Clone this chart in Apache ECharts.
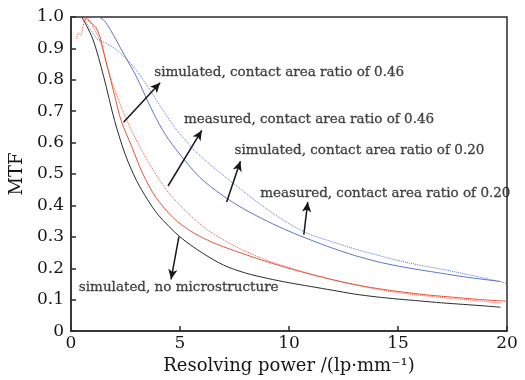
<!DOCTYPE html>
<html>
<head>
<meta charset="utf-8">
<script src="https://cdn.jsdelivr.net/npm/echarts@6/dist/echarts.min.js"></script>
<style>
  html, body { margin: 0; padding: 0; background: #fff; }
  #chart { width: 525px; height: 380px; }
</style>
</head>
<body>
<div id="chart"></div>
<script>
// Resolving power (lp/mm) vs MTF
const xTicks = [0, 5, 10, 15, 20];
const yTicks = [0, 0.1, 0.2, 0.3, 0.4, 0.5, 0.6, 0.7, 0.8, 0.9, 1.0];

const simNone = [[0.5,1.0],[1,0.93],[1.5,0.81],[2,0.67],[2.5,0.56],[3,0.48],[3.5,0.42],[4,0.37],[5,0.30],[6,0.25],[7,0.21],[8,0.185],[9,0.168],[10,0.154],[11,0.142],[12,0.13],[13,0.118],[14,0.109],[15,0.102],[16,0.096],[17,0.09],[18,0.085],[19,0.08],[19.7,0.076]];
const sim020 = [[0.6,1.0],[1.2,0.96],[1.6,0.86],[2,0.75],[2.3,0.67],[2.8,0.585],[3.3,0.50],[3.9,0.425],[4.7,0.36],[5.5,0.318],[6.5,0.282],[7.5,0.256],[8.5,0.232],[9.5,0.21],[10.5,0.19],[11.5,0.172],[12.5,0.156],[13.5,0.142],[14.5,0.131],[15.5,0.122],[16.5,0.114],[17.5,0.108],[18.5,0.102],[19.3,0.098],[20,0.095]];
const meas020 = [[0.25,0.93],[0.35,0.95],[0.45,0.94],[0.55,0.97],[0.7,1.0],[1,0.97],[1.35,0.92],[1.8,0.81],[2.3,0.715],[2.7,0.65],[3.45,0.55],[4.37,0.45],[5.3,0.38],[6.2,0.325],[7.4,0.275],[8.3,0.245],[9.3,0.218],[10.3,0.196],[11.3,0.176],[12.3,0.158],[13.3,0.143],[14.3,0.13],[15.3,0.12],[16.3,0.112],[17.3,0.105],[18.3,0.099],[19.7,0.089]];
const sim046 = [[0.8,1.0],[1.2,1.0],[1.5,0.99],[1.8,0.96],[2.4,0.885],[3,0.81],[3.6,0.72],[4.2,0.64],[4.8,0.58],[5.9,0.49],[6.95,0.432],[7.9,0.39],[9,0.35],[10,0.318],[11,0.29],[12,0.264],[13,0.241],[14,0.222],[15,0.207],[16,0.195],[17,0.184],[18,0.173],[19,0.164],[19.7,0.158]];
const meas046 = [[0.6,1.0],[0.8,0.97],[1.0,0.95],[1.2,0.93],[1.65,0.915],[2.27,0.885],[3,0.83],[3.6,0.77],[4.2,0.705],[4.8,0.645],[5.6,0.58],[6.3,0.535],[7,0.495],[8,0.44],[9,0.388],[10,0.342],[11,0.307],[12,0.284],[13,0.262],[14,0.243],[15,0.225],[16,0.21],[17,0.197],[18,0.183],[19,0.168],[20,0.152]];

// Callout texts: anchor point (left end of text) and arrow tail -> head, in data units
const noteTexts = [
  'simulated, contact area ratio of 0.46',
  'measured, contact area ratio of 0.46',
  'simulated, contact area ratio of 0.20',
  'measured, contact area ratio of 0.20',
  'simulated, no microstructure'
];
const noteAnchors = [[3.82,0.823],[5.18,0.674],[7.5,0.576],[8.68,0.437],[0.36,0.139]];
const arrowTails = [[2.41,0.665],[4.45,0.462],[7.14,0.411],[10.68,0.307],[4.95,0.301]];
const arrowHeads = [[4.09,0.791],[6.0,0.639],[7.77,0.541],[10.86,0.411],[4.59,0.165]];

const serif = 'DejaVu Serif';
const ink = '#161616';
const frame = '#2b2b2b';
const red = '#e5553c';
const blue = '#5b76c6';

function lineSeries(data, color, type) {
  return {
    type: 'line', data: data, showSymbol: false, smooth: 0.3,
    lineStyle: { color: color, width: 1, type: type },
    silent: true, z: 2
  };
}

const chart = echarts.init(document.getElementById('chart'), null, { renderer: 'canvas' });
chart.setOption({
  animation: false,
  backgroundColor: '#fff',
  grid: { left: 67, right: 18, top: 17, bottom: 47, show: true, borderColor: frame, borderWidth: 1.5 },
  xAxis: {
    type: 'value', min: xTicks[0], max: xTicks[xTicks.length - 1], interval: 5,
    name: 'Resolving power /(lp\u00b7mm\u207b\u00b9)', nameLocation: 'middle', nameGap: 23,
    nameTextStyle: { fontFamily: serif, fontSize: 18, color: ink },
    axisLine: { lineStyle: { color: frame, width: 1.5 } },
    axisTick: { inside: true, length: 5, lineStyle: { color: frame, width: 1.5 } },
    axisLabel: { fontFamily: serif, fontSize: 17, color: ink, margin: 4 },
    splitLine: { show: false }
  },
  yAxis: {
    type: 'value', min: yTicks[0], max: yTicks[yTicks.length - 1], interval: 0.1,
    name: 'MTF', nameLocation: 'middle', nameGap: 45, nameRotate: 90,
    nameTextStyle: { fontFamily: serif, fontSize: 18, color: ink },
    axisLine: { lineStyle: { color: frame, width: 1.5 } },
    axisTick: { inside: true, length: 5, lineStyle: { color: frame, width: 1.5 } },
    axisLabel: { fontFamily: serif, fontSize: 17, color: ink, margin: 7,
      formatter: v => v === 0 ? '0' : v.toFixed(1) },
    splitLine: { show: false }
  },
  series: [
    lineSeries(simNone, frame, 'solid'),
    lineSeries(sim020, red, 'solid'),
    lineSeries(meas020, red, 'dotted'),
    lineSeries(sim046, blue, 'solid'),
    lineSeries(meas046, blue, 'dotted'),
    {
      type: 'scatter', symbolSize: 0, silent: true, z: 5,
      data: noteAnchors.map((p, i) => ({ value: p, name: noteTexts[i] })),
      label: { show: true, position: 'right', distance: 0, formatter: '{b}',
        fontFamily: serif, fontSize: 13.5, color: ink,
        textBorderColor: ink, textBorderWidth: 0.3 },
      markLine: {
        silent: true, symbol: ['none', 'arrow'], symbolSize: [7, 10],
        lineStyle: { color: ink, width: 1.5, type: 'solid' },
        label: { show: false },
        data: arrowTails.map((t, i) => [{ coord: t }, { coord: arrowHeads[i] }])
      }
    }
  ]
});
</script>
</body>
</html>
